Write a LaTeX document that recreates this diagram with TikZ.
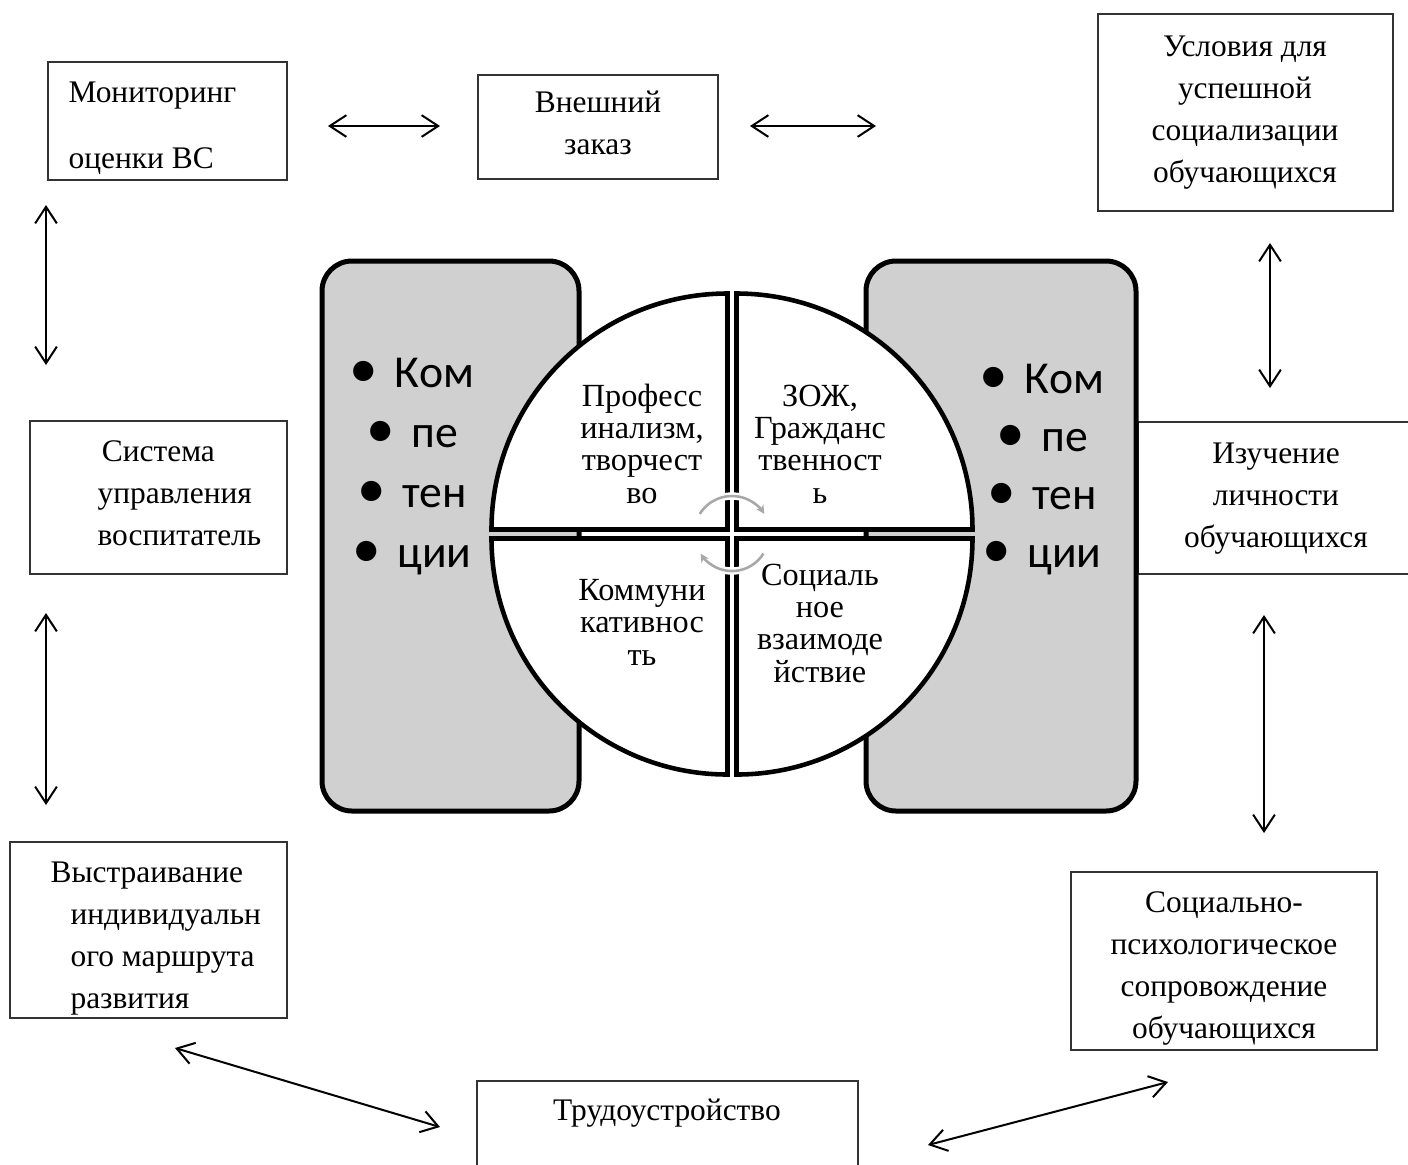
\documentclass[tikz,border=0pt]{standalone}
\usepackage{fontspec}
\setmainfont{Liberation Serif}
\newfontfamily\kalibri{Carlito}
\usepackage{tikz}
\usepackage{xcolor}
\usetikzlibrary{arrows.meta,calc,fit,positioning}

\definecolor{plashkafon}{RGB}{208,208,208}
\definecolor{krugcvet}{RGB}{168,168,168}
\newcommand{\punkt}{\scalebox{1.25}{•}\hspace{2.2pt} }

\begin{document}
\begin{tikzpicture}[x=0.35pt, y=-0.35pt,
  ramka/.style = {draw=black!80, line width=0.5pt, inner sep=0pt},
  tekst/.style = {font=\fontsize{11}{14.7}\selectfont, inner sep=0pt},
  sektortekst/.style = {font=\fontsize{11.3}{11.3}\selectfont, align=center, inner sep=0pt},
  punkty/.style = {font=\kalibri\fontsize{16}{21}\selectfont, align=center, inner sep=0pt},
  plashka/.style = {draw=black, line width=1.75pt, fill=plashkafon, rounded corners=10.5pt},
  sektor/.style = {draw=black, line width=1.6pt, fill=white},
  krug/.style = {draw=krugcvet, line width=0.9pt, preaction={draw=white, line width=2.6pt}},
  strelka/.style = {<->, line width=0.7pt, >={Straight Barb[length=5.8pt,width=7.6pt]}}]
\useasboundingbox (0,0) rectangle (1408,1164);

% ramki
\node[ramka, fit={(48,62) (287,180)}] (mon) {};
\node[ramka, fit={(478,75) (718,179)}] (vnesh) {};
\node[ramka, fit={(1098,14) (1393,211)}] (uslov) {};
\node[ramka, fit={(30,421) (287,574)}] (sist) {};
\node[ramka, fit={(1138,422) (1420,574)}] (izuch) {};
\node[ramka, fit={(10,842) (287,1018)}] (vystr) {};
\node[ramka, fit={(1071,872) (1377,1050)}] (socps) {};
\node[ramka, fit={(477,1081) (858,1175)}] (trud) {};

% base = poslednyaya stroka
\node[tekst, align=left, anchor=base west] (monT) at (68,168) {Мониторинг\\[8.4pt]оценки ВС};
\node[tekst, align=center, anchor=base] (vneshT) at (598,154) {Внешний\\заказ};
\node[tekst, align=center, anchor=base] (uslovT) at (1245,182) {Условия для\\успешной\\социализации\\обучающихся};
\node[tekst, align=left, anchor=base west] (sistT) at (97,545) {\hspace*{1.5pt}Система\\управления\\воспитатель};
\node[tekst, align=center, anchor=base] (izuchT) at (1276,547) {Изучение\\личности\\обучающихся};
\node[tekst, align=left, anchor=base west] (vystrT) at (70,1008) {\hspace*{-7pt}Выстраивание\\индивидуальн\\ого маршрута\\развития};
\node[tekst, align=center, anchor=base] (socpsT) at (1224,1038) {Социально-\\психологическое\\сопровождение\\обучающихся};
\node[tekst, anchor=base] (trudT) at (667,1120) {Трудоустройство};

% plashki
\draw[plashka] (322,261) rectangle (579,811);
\draw[plashka] (866,261) rectangle (1136,811);
\node[punkty, anchor=base] (komL) at (412,567) {\punkt Ком\\\punkt пе\\\punkt тен\\\punkt ции};
\node[punkty, anchor=base, font=\kalibri\fontsize{16}{20.3}\selectfont] (komR) at (1042,567) {\punkt Ком\\\punkt пе\\\punkt тен\\\punkt ции};

% krug
\draw[sektor] (727.5,529.5) -- ++(-236,0) arc[start angle=180, end angle=270, radius=236] -- cycle;
\draw[sektor] (736.5,529.5) -- ++(0,-236) arc[start angle=270, end angle=360, radius=236] -- cycle;
\draw[sektor] (736.5,538.5) -- ++(236,0) arc[start angle=0, end angle=90, radius=236] -- cycle;
\draw[sektor] (727.5,538.5) -- ++(0,236) arc[start angle=90, end angle=180, radius=236] -- cycle;
\coordinate (centr) at (732,534);
\draw[krug, -{Stealth[length=3pt,width=3pt]}] ($(centr)+(212:38)$) arc[start angle=212, end angle=328, radius=38];
\draw[krug, -{Stealth[length=3pt,width=3pt]}] ($(centr)+(32:37)$) arc[start angle=32, end angle=148, radius=37];

\node[sektortekst, anchor=base] (prof) at (642,503) {Професс\\инализм,\\творчест\\во};
\node[sektortekst, anchor=base] (zozh) at (820,503) {ЗОЖ,\\Гражданс\\твенност\\ь};
\node[sektortekst, anchor=base] (komm) at (642,665) {Коммуни\\кативнос\\ть};
\node[sektortekst, anchor=base] (socv) at (820,682) {Социаль\\ное\\взаимоде\\йствие};

% strelki
\coordinate (s1a) at (328,126);  \coordinate (s1b) at (440,126);
\coordinate (s2a) at (750,126);  \coordinate (s2b) at (876,126);
\coordinate (s3a) at (46,205);   \coordinate (s3b) at (46,365);
\coordinate (s4a) at (46,613);   \coordinate (s4b) at (46,805);
\coordinate (s5a) at (1270,243); \coordinate (s5b) at (1270,388);
\coordinate (s6a) at (1264,615); \coordinate (s6b) at (1264,833);
\coordinate (s7a) at (175,1048); \coordinate (s7b) at (440,1127);
\coordinate (s8a) at (928,1145); \coordinate (s8b) at (1168,1082);
\draw[strelka] (s1a) -- (s1b);
\draw[strelka] (s2a) -- (s2b);
\draw[strelka] (s3a) -- (s3b);
\draw[strelka] (s4a) -- (s4b);
\draw[strelka] (s5a) -- (s5b);
\draw[strelka] (s6a) -- (s6b);
\draw[strelka] (s7a) -- (s7b);
\draw[strelka] (s8a) -- (s8b);
\end{tikzpicture}
\end{document}
